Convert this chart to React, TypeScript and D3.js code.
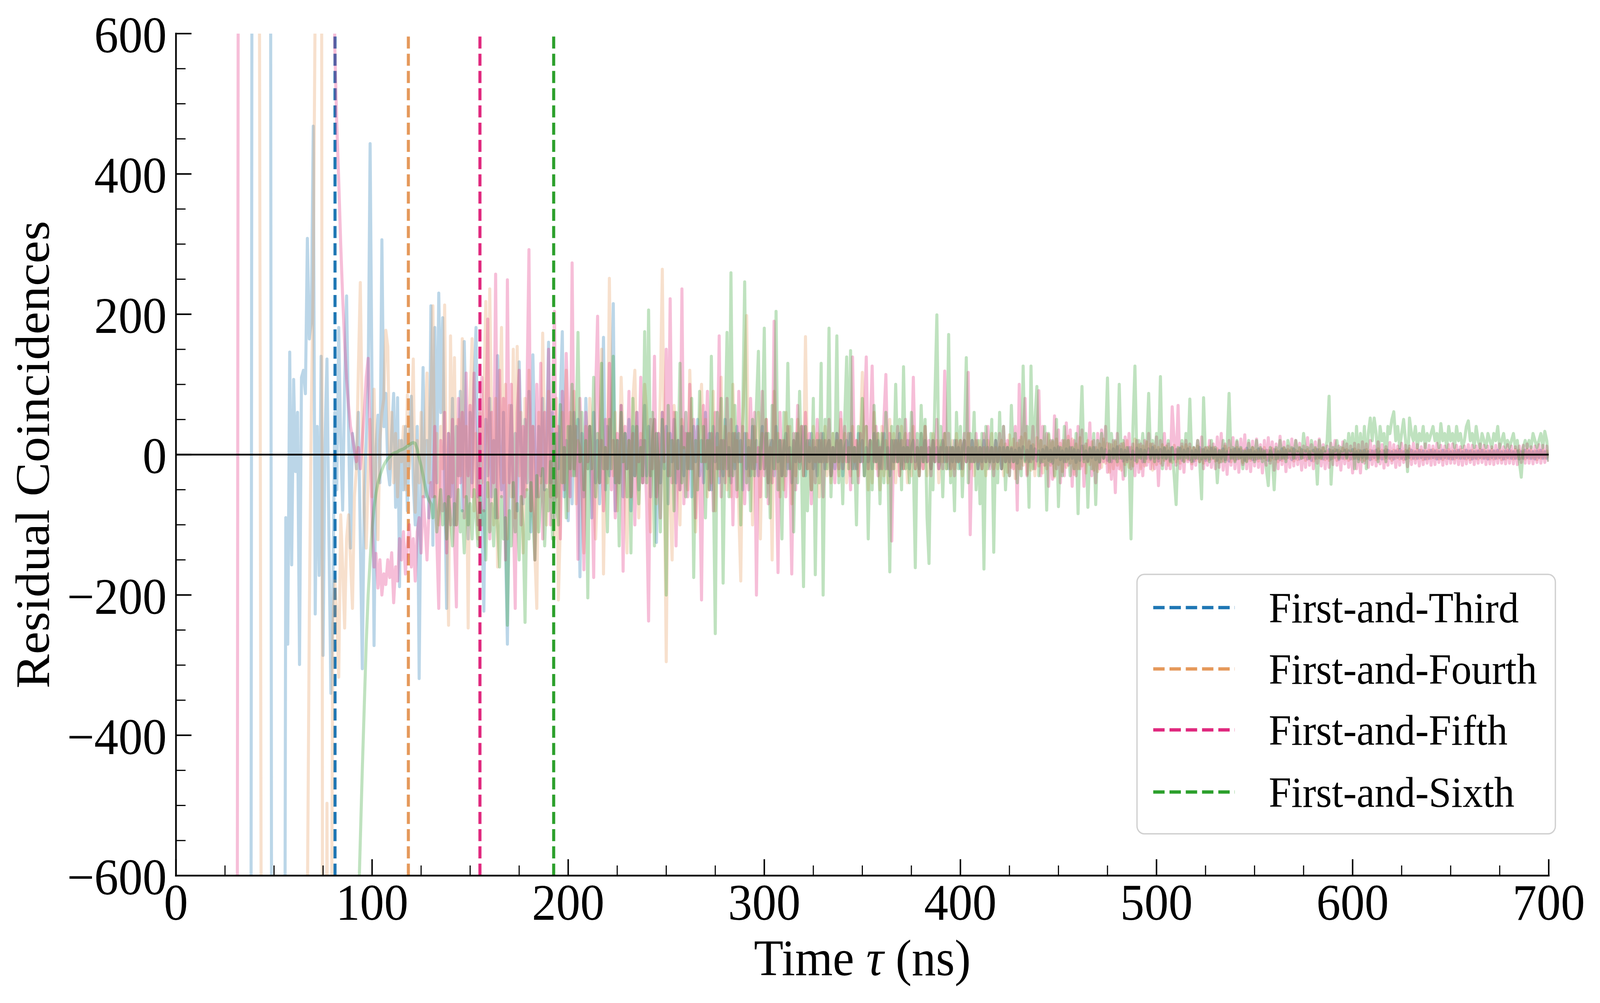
import React from 'react';
import * as d3 from 'd3';

const W = 4337;
const H = 2567;
const PL = 477, PR = 4198, PT = 86, PB = 2241;

const xMajor = [0, 100, 200, 300, 400, 500, 600, 700];
const yMajor = [-600, -400, -200, 0, 200, 400, 600];
const seriesNames = ['First-and-Third', 'First-and-Fourth', 'First-and-Fifth', 'First-and-Sixth'];
const seriesColors = ['#1f77b4', '#e5995b', '#e0287e', '#2ca02c'];
const markerTimes = [81.1, 118.5, 155, 192.6];

const blueStart = 36;
const blueValues = [
  -1500,-1500,-1500,1500,1500,1500,1500,1500,1500,1500,
  1500,1500,1500,-1500,-1500,-1500,-1500,-1500,-1500,-1500,
  -90,-270,146,-157,107,-24,60,-299,110,120,
  87,308,165,190,468,-227,40,-172,140,-286,
  20,136,-120,-340,-200,60,-50,181,20,-79,
  100,226,40,-133,30,7,-20,60,-120,-305,
  -60,20,100,443,81,-272,10,56,-40,306,
  40,87,-20,-43,30,87,-75,81,-188,20,
  -50,40,-80,10,83,-40,-100,40,-319,-30,
  124,-60,20,-90,212,-129,181,-40,230,60,
  195,-40,-219,30,-60,80,-100,40,-30,90,
  -80,161,20,-120,60,-40,100,181,-60,30,
  -100,-223,50,-30,80,-60,20,-90,141,10,
  -50,60,-120,-270,-20,70,-60,30,-80,132,
  20,-70,50,-40,90,-110,142,10,-60,40,
  -30,80,-50,20,160,-40,60,-90,30,-20,
  80,175,-60,20,-94,40,-70,60,-30,50,
  -174,30,-60,80,-20,40,-90,60,-40,20,
  -70,30,167,-50,40,-30,60,215,-80,20,
  -40,70,-60,30,-20,50,-80,40,-30,60,
  -50,20,-40,70,-30,40,-60,20,50,-125,
  30,-40,60,-20,40,-70,30,-10,50,-40,
  20,-50,40,-30,60,-20,30,-60,40,-10,
  50,-30,20,-40,60,-20,30,-50,40,-10,
  30,-40,20,-30,50,-20,10,-40,30,-20,
  40,-10,20,-50,30,-20,10,-30,40,-20,
  20,-30,10,40,-20,30,-40,10,20,-30,
  40,-10,20,-30,10,30,-20,10,-40,20,
  -10,30,-20,10,40,-30,20,-10,30,-20,
  10,-30,20,-10,30,-20,10,20,-30,10,
  -20,30,-10,20,-30,10,20,-10,30,-20,
  10,-20,30,-10,20,-30,10,-10,20,-20,
  30,-10,20,-20,10,30,-20,10,-30,20,
  -10,20,-10,30,-20,10,-10,20,-20,10,
  20,-10,10,-20,30,-10,20,-10,10,-20,
  20,-10,10,-20,10,20,-10,10,-20,10,
  -10,20,-10,10,-20,10,20,-10,10,-10,
  20,-10,10,-20,10,-10,20,-10,10,-10,
  10,-10,20,-10,10,-20,10,-10,10,-10,
  8,-10,6,-12,9,-5,11,-8,6,-10,
  12,-6,8,-9,5,-11,7,-5,10,-8,
  6,-12,9,-4,11,-7,5,-10,8,-6,
  10,-5,7,-11,6,-8,12,-6,5,-9,
  8,-4,10,-7,6,-11,9,-5,7,-8,
  5,-10,8,-6,11,-5,7,-9,6,-7,
  10,-6,5,-8,9,-4,7,-10,6,-5,
  8,-7,10,-5,6,-9,7,-4,9,-6,
  5,-8,10,-6,7,-5,9,-8,6,-4,
  8,-7,5,-9,6,-5,10,-6,7,-8,
  5,-6,9,-4,7,-8,6,-5,8,-7,
  4,-9,6,-5,8,-6,7,-4,5,-8,
  9,-5,6,-7,4,-6,8,-5,7,-4,
  6,-8,5,-4,7,-6,4,-7,8,-5,
  6,-4,5,-7,8,-5,4,-6,7,-4,
  5,-6,4,-8,6,-5,7,-4,5,-6,
  4,-5,7,-6,5,-4,6,-7,4,-5,
  6,-4,5,-6,7,-5,4,-6,5,-4,
  6,-5,4,-7,5,-4,6,-5,4,-6,
  5,-4,6,-5,4,-6,5,-4,7,-5,
  4,-6,5,-4,6,-5,4,-5,6,-4,
  5,-6,4,-5,6,-4,5,-6,4,-5,
  6,-4,5,-5,4,-6,5,-4,6,-5,
  4,-5,6,-4,5,-6,4,-5,5,-4,
  6,-5,4,-6,5,-4,5,-5,6,-4,
  4,-6,5,-4,6,-5,4,-5,5,-6,
  4,-5,6,-4,5,-5,4,-6,5,-4,
  6,-5,4,-5,3,
];

const orangeStart = 41;
const orangeValues = [
  1500,1500,0,-1500,-1500,-1500,-1500,-1500,-1500,-1500,
  -1500,-1500,-1500,-1500,-1500,-1500,-1500,-1500,-1500,-1500,
  -1500,-1500,-1500,-1500,-1500,-1500,-650,-230,60,250,
  650,1500,1500,1500,-1500,-1500,-497,-1500,-900,-245,
  -180,-230,-317,-86,-160,-247,-120,-86,-150,-219,
  -60,-20,120,245,40,-80,-133,-30,50,-60,
  93,-40,-121,20,60,80,177,154,-20,60,
  -40,30,-60,20,-10,40,-50,85,-20,30,
  136,-82,20,-40,60,-60,30,116,-40,80,
  212,-60,30,-100,40,-20,213,-80,-243,169,
  -40,138,-100,50,-30,165,-60,40,-247,80,
  165,-80,30,-120,60,-40,90,218,-60,236,
  40,-100,80,-160,60,181,-40,100,-120,70,
  -60,150,-90,154,-30,60,-140,80,-50,120,
  -80,40,-140,-219,60,-40,173,20,-100,90,
  -60,30,-120,80,-207,-100,60,-40,120,-80,
  60,-30,90,-70,20,10,-50,-140,40,-20,
  80,30,-60,-120,-40,20,150,-170,10,-40,
  251,40,-30,60,-80,-20,110,30,-50,-140,
  20,-60,80,120,-10,-90,30,-40,100,60,
  -20,-110,30,50,-70,-30,90,264,-20,-295,
  30,-60,-150,70,20,-40,-100,50,10,60,
  -50,120,30,-20,-110,-30,40,100,-10,50,
  -60,20,-40,90,-80,10,-30,110,-20,40,
  -50,30,-60,100,-10,20,-80,-180,40,120,
  198,-30,20,-100,40,-10,60,-120,30,-20,
  50,-40,10,-150,90,-20,30,-60,20,-50,
  60,-10,40,-70,20,-30,50,-20,40,-30,
  168,-20,10,-50,40,-10,30,-60,20,-10,
  40,-30,20,-40,30,-10,20,-30,50,-10,
  30,-40,10,-30,40,-10,20,-30,30,117,
  -30,40,-50,20,-40,60,-20,30,-50,40,
  -30,20,-40,50,-20,30,-40,20,-30,40,
  -20,30,-40,20,-30,40,-20,10,-30,30,
  -20,40,-30,10,-20,30,-10,20,-40,20,
  -10,30,-20,10,-30,20,-20,30,-10,20,
  -30,20,-10,30,-20,10,-30,20,-10,20,
  -20,10,-30,20,-10,30,-20,10,-20,10,
  20,-30,15,-25,28,-18,22,-34,16,-20,
  25,-15,30,-28,18,-22,14,-30,24,-16,
  20,-26,12,-20,28,-15,18,-32,22,-14,
  16,-24,20,-18,26,-12,22,-28,15,-20,
  24,-16,12,-26,20,-14,18,-22,10,-24,
  15,-18,22,-12,16,-25,14,-20,18,-15,
  12,-22,16,-14,20,-18,10,-16,22,-12,
  14,-20,12,-16,18,-10,15,-22,12,-14,
  10,-12,14,-8,12,-15,9,-11,13,-10,
  8,-12,11,-9,14,-7,10,-13,9,-8,
  12,-10,7,-12,9,-8,11,-6,10,-9,
  8,-11,6,-9,12,-7,9,-10,7,-8,
  10,-6,8,-11,7,-9,6,-8,10,-7,
  6,-9,8,-5,10,-7,6,-8,9,-6,
  7,-10,5,-8,9,-6,7,-5,8,-9,
  6,-7,9,-5,6,-8,7,-6,5,-9,
  8,-5,7,-6,9,-7,5,-8,6,-5,
  7,-8,6,-5,9,-6,7,-8,5,-6,
  8,-5,6,-7,5,-8,7,-5,6,-6,
  5,-7,8,-5,6,-6,7,-5,5,-8,
  6,-5,7,-6,5,-7,6,-5,8,-6,
  5,-6,7,-5,6,-7,5,-6,6,-5,
  7,-5,6,-6,5,-7,6,-5,7,-6,
  5,-6,6,-5,7,-5,6,-6,5,-7,
  6,-5,5,-6,7,-5,6,-5,5,-6,
  7,-6,5,-5,6,-7,5,-6,6,-5,
  5,-6,7,-5,6,-5,5,-6,7,-5,
  6,-5,5,-7,6,-5,6,-5,5,-4,
];

const pinkStart = 31;
const pinkValues = [
  -1500,1500,1500,1500,1500,1500,1500,1500,1500,1500,
  1500,1500,1500,1500,1500,1500,1500,1500,1500,1500,
  1500,1500,1500,1500,1500,1500,1500,1500,1500,1500,
  1500,1500,1500,1500,1500,1500,1500,1500,1500,1500,
  1500,1500,1500,1500,1500,1500,1500,1500,1500,900,
  580,470,390,300,224,160,107,70,40,25,
  5,-10,10,-20,20,60,110,137,20,-100,
  -160,-141,-190,-150,-200,-170,-185,-150,-175,-140,
  -211,-160,-180,-120,-150,-110,-170,-130,-100,-160,
  -120,-180,-110,-90,-140,-60,-100,-150,-80,-40,
  -60,40,-120,-219,20,-80,60,-140,30,-100,
  50,-120,-217,80,-40,60,-90,116,-30,70,
  -60,116,-20,-100,60,110,-80,40,193,-120,
  60,-40,257,-90,120,-60,80,-150,249,-40,
  100,-80,-219,60,120,-100,40,-60,90,292,
  -80,40,-150,100,-60,130,-120,60,-40,150,
  -100,80,204,-60,40,-120,90,-50,144,60,
  -60,273,-20,40,-149,80,-30,-164,60,-10,
  40,-30,-175,90,197,-40,20,-80,50,-20,
  130,-50,20,-90,30,-40,70,-166,40,-20,
  90,-60,30,-100,60,-10,110,-40,20,-70,
  -237,50,-20,140,-60,30,-90,60,-10,150,
  -30,222,-40,60,-130,20,-50,236,-70,30,
  -60,100,-20,50,-90,40,-30,-207,70,-10,
  90,-50,30,-80,60,-20,169,-60,20,-40,
  80,-30,50,-100,30,-60,90,-10,40,-70,
  30,-50,80,-20,60,-200,10,-60,90,-30,
  50,-70,20,-40,190,-10,-168,60,-30,20,
  -60,40,-20,-170,30,-50,70,-10,40,-30,
  60,-20,30,-70,20,-40,50,-10,30,-60,
  20,-10,50,-30,10,-40,30,-20,60,-20,
  40,-10,30,-50,139,-20,20,-40,30,-10,
  50,139,-20,30,126,-10,40,-30,10,-20,
  50,114,-20,30,-123,20,-10,40,-30,20,
  -20,50,-10,30,-10,110,-20,20,-30,10,
  -20,40,-10,20,-30,20,-10,50,-20,10,
  -20,119,-10,30,-20,10,-30,20,-10,20,
  -20,30,-10,117,-114,20,-10,30,-20,10,
  -20,30,-10,40,-20,10,-30,20,-10,30,
  -20,40,-10,20,-30,10,-20,40,-79,100,
  -20,30,80,-30,20,-10,40,-20,10,91,
  -30,40,-15,30,-45,20,-35,55,-20,35,
  -40,20,-30,45,-15,35,-45,20,-30,40,
  -20,35,-45,15,-10,45,-30,20,-40,30,
  -20,35,-10,40,-25,15,-35,20,-54,30,
  -20,15,-35,25,-10,30,-20,15,-30,20,
  -25,15,-30,20,-15,30,-20,15,-20,25,
  -44,20,-15,30,-20,15,-20,68,20,-15,
  70,-20,15,-25,20,-10,15,-20,10,-15,
  20,-10,25,-20,10,-15,20,-18,15,-20,
  25,-18,30,-22,15,-28,20,-15,24,-20,
  18,-25,22,-14,28,-20,16,-24,19,-16,
  22,-18,14,-26,20,-15,24,-12,18,-22,
  15,-20,26,-14,18,-24,12,-18,22,-16,
  20,-14,16,-22,12,-18,24,-15,14,-20,
  18,-12,22,-16,14,-20,12,-18,16,-14,
  20,-15,12,-22,18,-13,15,-18,12,-26,
  16,-20,14,-26,18,-12,15,-18,20,-14,
  12,-16,18,-13,14,-19,11,-15,17,-12,
  14,-18,12,-15,16,-11,13,-17,12,-14,
  16,-12,14,-16,11,-14,15,-12,13,-15,
  12,-14,16,-11,13,-15,12,-13,14,-12,
  15,-12,13,-14,11,-15,12,-13,14,-11,
  13,-14,12,-12,15,-11,13,-14,12,-13,
  11,-14,13,-12,15,-12,11,-13,14,-12,
  12,-13,11,-14,12,-11,13,-12,15,-12,
  11,-13,12,-11,14,-12,13,-11,12,-10,
];

const greenStart = 90;
const greenValues = [
  -1500,-1500,-900,-650,-550,-450,-360,-270,-200,-150,
  -105,-75,-55,-40,-30,-22,-15,-10,-6,-3,
  0,2,3,4,6,7,8,10,12,14,
  16,17,16,8,-5,-16,-30,-45,-58,-65,
  -70,-90,-60,-110,-80,-50,-100,-70,-120,-60,
  -90,-130,-70,-100,-50,-110,-80,-140,-60,-100,
  -70,-120,-50,-90,-130,-60,-100,-80,-150,-40,
  -110,-70,-130,-50,-100,-160,-60,-120,-90,-243,
  -80,-130,-40,-110,-70,-150,-60,-100,-239,-50,
  -120,-40,-90,-150,-30,-110,-60,-20,-130,-50,
  -80,-10,-120,30,-60,-100,71,-40,10,-90,
  40,-20,100,-30,20,174,-10,60,-50,20,
  -204,40,-20,110,-60,30,-40,130,-20,10,
  -110,50,-20,140,-40,20,-130,60,-10,30,
  -60,20,-140,80,-30,40,-70,10,-30,175,
  -40,206,-30,60,-130,30,-10,-110,50,-20,
  -200,70,-30,20,-80,60,-20,130,-40,10,
  -60,30,-20,80,-175,20,-50,90,-10,40,
  -90,20,-50,140,-30,-255,60,-20,80,-183,
  30,174,-60,259,-30,70,-50,30,-100,60,
  246,-40,20,-80,50,-30,70,147,-20,40,
  180,-60,30,-90,70,-20,204,-50,20,-120,
  60,-30,130,-20,50,-110,30,-40,90,-20,
  -188,40,-80,20,-50,80,-171,20,-40,130,
  -200,50,-20,180,-60,30,-10,169,-40,20,
  -70,50,139,-20,148,-40,10,-100,40,-10,
  80,-30,40,-120,20,-50,70,-10,30,-70,
  30,-40,60,-10,-167,40,-20,100,-10,50,
  -50,125,-20,10,-40,60,-10,-161,30,-30,
  70,-10,50,-90,-155,30,-50,80,199,-10,
  40,-60,30,-20,171,-40,10,-80,60,-20,
  40,-60,20,138,-40,30,-10,60,-50,20,
  -70,30,-163,40,-20,-10,50,-139,30,-40,
  60,-20,40,-50,10,-30,70,-10,30,-40,
  20,-30,126,-10,40,-75,126,-20,50,97,
  -30,20,-10,40,-79,30,-10,20,-30,50,
  -74,10,-30,40,-10,20,-30,10,-20,30,
  -84,20,97,-10,30,-75,10,-20,30,-71,
  20,-10,30,-5,20,109,-10,30,-5,20,
  -10,100,-5,20,-30,10,-5,-120,40,126,
  -10,20,-5,30,-10,10,87,-5,20,-10,
  30,-5,111,-20,10,-5,20,-10,10,-30,
  -71,10,-5,20,-10,30,-5,79,-10,10,
  -5,20,-10,-63,81,-5,10,-10,20,-5,
  10,-40,5,-10,20,-10,10,87,-5,10,
  -10,20,-5,10,-20,5,-10,20,-5,10,
  -10,20,-5,10,-10,5,-20,-44,10,-5,
  -50,10,-5,20,-5,10,-10,20,5,10,
  -5,20,5,10,-5,30,5,10,-5,20,
  5,10,-42,20,-5,10,5,20,83,-42,
  10,5,20,-5,10,5,20,-5,30,5,
  30,-20,40,-10,30,-10,40,-20,30,52,
  20,52,30,-10,40,20,30,-10,40,30,
  50,61,20,40,10,30,50,20,-24,52,
  30,20,40,10,30,20,40,10,30,20,
  30,40,20,30,10,44,20,30,10,40,
  20,30,10,40,20,30,10,20,40,48,
  20,30,10,40,20,10,30,20,10,30,
  20,10,30,20,40,10,20,30,10,20,
  10,20,30,10,20,-10,-32,10,20,10,
  20,10,30,20,10,20,30,10,33,20,
  -10,
];

const seriesStarts = [blueStart, orangeStart, pinkStart, greenStart];
const seriesValues = [blueValues, orangeValues, pinkValues, greenValues];

const FONT = "'Liberation Serif', 'Times New Roman', Times, serif";

export default function App() {
  const x = d3.scaleLinear().domain([0, 700]).range([PL, PR]);
  const y = d3.scaleLinear().domain([-600, 600]).range([PB, PT]);
  const xMinor = d3.range(0, 701, 25).filter((v) => v % 100 !== 0);
  const yMinor = d3.range(-600, 601, 50).filter((v) => v % 200 !== 0);
  const fmt = (v: number) => (v < 0 ? '\u2212' + Math.abs(v) : String(v));

  const paths = seriesValues.map((vals, k) => {
    const start = seriesStarts[k];
    const line = d3
      .line<number>()
      .x((_, i) => x(start + i))
      .y((d) => y(d));
    return line(vals) || '';
  });

  const legX = 3082, legY = 1470, legW = 1134, legH = 664;
  const rowY = [1555, 1712, 1868, 2027];

  return (
    <svg
      width="100vw"
      height="100vh"
      viewBox={`0 0 ${W} ${H}`}
      preserveAspectRatio="none"
      style={{ position: 'fixed', left: 0, top: 0, display: 'block', background: '#fff' }}
      fontFamily={FONT}
    >
      <rect x={0} y={0} width={W} height={H} fill="#fff" />
      <defs>
        <clipPath id="plotClip">
          <rect x={PL} y={PT} width={PR - PL} height={PB - PT} />
        </clipPath>
      </defs>
      <g clipPath="url(#plotClip)">
        {paths.map((d, k) => (
          <g key={k}>
            <path
              d={d}
              fill="none"
              stroke={seriesColors[k]}
              strokeOpacity={0.3}
              strokeWidth={8.3}
              strokeLinejoin="round"
            />
            <line
              x1={x(markerTimes[k])}
              x2={x(markerTimes[k])}
              y1={PB}
              y2={PT}
              stroke={seriesColors[k]}
              strokeWidth={8.3}
              strokeDasharray="30.8 13.3"
            />
          </g>
        ))}
        <line x1={PL} x2={PR} y1={y(0)} y2={y(0)} stroke="#000" strokeWidth={4.5} />
      </g>

      <line x1={PL} x2={PL} y1={PT} y2={PB} stroke="#000" strokeWidth={4.5} strokeLinecap="square" />
      <line x1={PL} x2={PR} y1={PB} y2={PB} stroke="#000" strokeWidth={4.5} strokeLinecap="square" />

      {xMajor.map((v) => (
        <g key={'xm' + v}>
          <line x1={x(v)} x2={x(v)} y1={PB} y2={PB - 42} stroke="#000" strokeWidth={4} />
          <text x={x(v)} y={2354} fontSize={131} textAnchor="middle" fill="#000">
            {fmt(v)}
          </text>
        </g>
      ))}
      {xMinor.map((v) => (
        <line key={'xn' + v} x1={x(v)} x2={x(v)} y1={PB} y2={PB - 26} stroke="#000" strokeWidth={3} />
      ))}

      {yMajor.map((v) => (
        <g key={'ym' + v}>
          <line x1={PL} x2={PL + 42} y1={y(v)} y2={y(v)} stroke="#000" strokeWidth={4} />
          <text x={452} y={y(v) + 48} fontSize={131} textAnchor="end" fill="#000">
            {fmt(v)}
          </text>
        </g>
      ))}
      {yMinor.map((v) => (
        <line key={'yn' + v} x1={PL} x2={PL + 26} y1={y(v)} y2={y(v)} stroke="#000" strokeWidth={3} />
      ))}

      <text x={(PL + PR) / 2} y={2496} fontSize={131} textAnchor="middle" fill="#000">
        Time <tspan fontStyle="italic">τ</tspan> (ns)
      </text>
      <text
        transform={`translate(132, ${(PT + PB) / 2}) rotate(-90)`}
        fontSize={131}
        textAnchor="middle"
        fill="#000"
      >
        Residual Coincidences
      </text>

      <rect
        x={legX}
        y={legY}
        width={legW}
        height={legH}
        rx={20}
        ry={20}
        fill="#fff"
        fillOpacity={0.8}
        stroke="#d0d0d0"
        strokeWidth={3.5}
      />
      {seriesNames.map((name, k) => (
        <g key={name}>
          <line
            x1={3126}
            x2={3347}
            y1={rowY[k]}
            y2={rowY[k]}
            stroke={seriesColors[k]}
            strokeWidth={8.3}
            strokeDasharray="30.8 13.3"
          />
          <text x={3439} y={rowY[k] + 38} fontSize={110} fill="#000">
            {name}
          </text>
        </g>
      ))}
    </svg>
  );
}
